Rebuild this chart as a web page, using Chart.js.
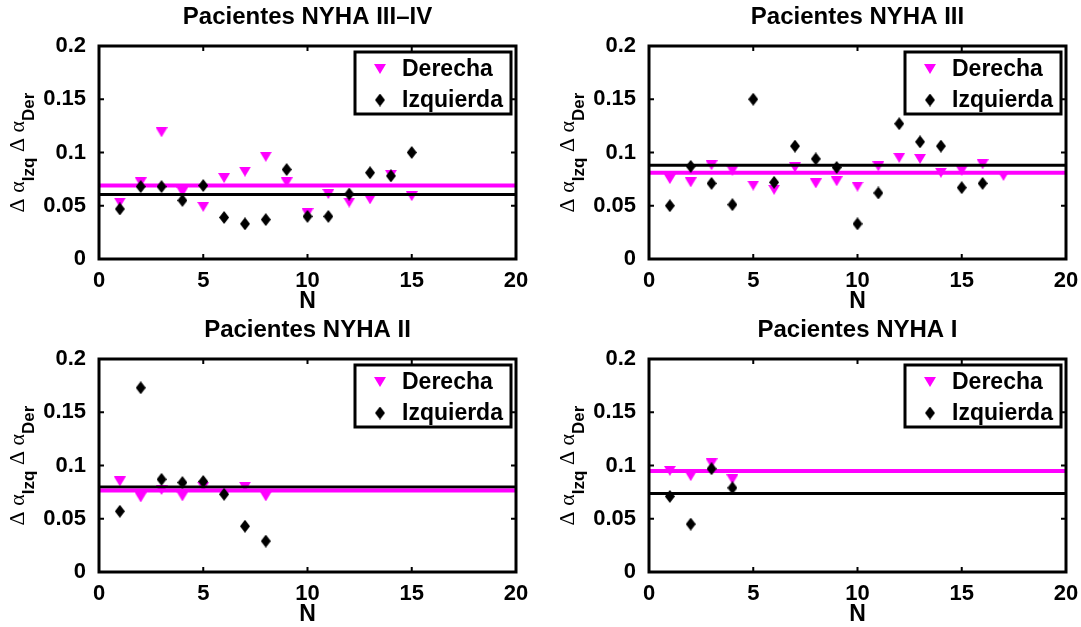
<!DOCTYPE html>
<html>
<head>
<meta charset="utf-8">
<script src="https://cdn.jsdelivr.net/npm/chart.js@4.4.1/dist/chart.umd.min.js"></script>
<style>
	body { margin: 0; background: #fff; width: 1081px; height: 627px; position: relative; overflow: hidden; }
	canvas { position: absolute; }
</style>
</head>
<body>
<canvas id="c34" width="540" height="313" style="left:0;top:0"></canvas>
<canvas id="c3" width="541" height="313" style="left:540px;top:0"></canvas>
<canvas id="c2" width="540" height="314" style="left:0;top:313px"></canvas>
<canvas id="c1" width="541" height="314" style="left:540px;top:313px"></canvas>
<script>
const xTicks = [0, 5, 10, 15, 20]
const yTicks = [0, 0.05, 0.1, 0.15, 0.2]
const seriesNames = ['Derecha', 'Izquierda']

// NYHA III-IV
const n34 = [1, 2, 3, 4, 5, 6, 7, 8, 9, 10, 11, 12, 13, 14, 15]
const der34 = [0.053, 0.072, 0.119, 0.063, 0.049, 0.076, 0.082, 0.096, 0.072, 0.043, 0.061, 0.053, 0.056, 0.079, 0.059]
const izq34 = [0.047, 0.068, 0.068, 0.055, 0.069, 0.039, 0.033, 0.037, 0.084, 0.040, 0.040, 0.061, 0.081, 0.078, 0.100]
const meanDer34 = 0.069
const meanIzq34 = 0.0606

// NYHA III
const nDer3 = [1, 2, 3, 4, 5, 6, 7, 8, 9, 10, 11, 12, 13, 14, 15, 16, 17]
const der3 = [0.075, 0.072, 0.088, 0.083, 0.069, 0.065, 0.086, 0.071, 0.073, 0.068, 0.087, 0.095, 0.094, 0.081, 0.083, 0.089, 0.078]
const nIzq3 = [1, 2, 3, 4, 5, 6, 7, 8, 9, 10, 11, 12, 13, 14, 15, 16]
const izq3 = [0.050, 0.087, 0.071, 0.051, 0.150, 0.072, 0.106, 0.094, 0.086, 0.033, 0.062, 0.127, 0.110, 0.106, 0.067, 0.071]
const meanDer3 = 0.081
const meanIzq3 = 0.088

// NYHA II
const n2 = [1, 2, 3, 4, 5, 6, 7, 8]
const der2 = [0.085, 0.070, 0.077, 0.071, 0.080, 0.073, 0.080, 0.071]
const izq2 = [0.057, 0.173, 0.087, 0.084, 0.085, 0.073, 0.043, 0.029]
const meanDer2 = 0.0766
const meanIzq2 = 0.0797

// NYHA I
const n1 = [1, 2, 3, 4]
const der1 = [0.095, 0.090, 0.102, 0.087]
const izq1 = [0.071, 0.045, 0.097, 0.079]
const meanDer1 = 0.0948
const meanIzq1 = 0.0738

const FONT = '"Liberation Sans", Arial, Helvetica, sans-serif'
const MAGENTA = '#ff00ff'

function markerCanvas(w, h, color, path) {
	const c = document.createElement('canvas')
	c.width = w
	c.height = h
	const g = c.getContext('2d')
	g.fillStyle = color
	g.beginPath()
	path(g, w, h)
	g.closePath()
	g.fill()
	return c
}

const triDown = markerCanvas(12, 10, MAGENTA, (g, w, h) => {
	g.moveTo(0, 0); g.lineTo(w, 0); g.lineTo(w / 2, h)
})
const diamond = markerCanvas(10, 13, '#000', (g, w, h) => {
	g.moveTo(w / 2, 0); g.lineTo(w, h / 2); g.lineTo(w / 2, h); g.lineTo(0, h / 2)
})

// box, inward ticks, legend and axis labels drawn the matlab way
const frame = {
	id: 'frame',
	afterDraw(chart) {
		const { ctx, chartArea: a, scales } = chart
		ctx.save()
		ctx.strokeStyle = '#000'
		ctx.fillStyle = '#000'

		ctx.lineWidth = 2
		ctx.beginPath()
		xTicks.forEach((v) => {
			const px = scales.x.getPixelForValue(v)
			ctx.moveTo(px, a.bottom); ctx.lineTo(px, a.bottom - 5)
			ctx.moveTo(px, a.top); ctx.lineTo(px, a.top + 5)
		})
		yTicks.forEach((v) => {
			const py = scales.y.getPixelForValue(v)
			ctx.moveTo(a.left, py); ctx.lineTo(a.left + 5, py)
			ctx.moveTo(a.right, py); ctx.lineTo(a.right - 5, py)
		})
		ctx.stroke()

		ctx.lineWidth = 3
		ctx.strokeRect(a.left, a.top, a.right - a.left, a.bottom - a.top)

		// legend
		const lw = 156, lh = 62
		const lx = a.right - 5 - lw, ly = a.top + 6
		ctx.fillStyle = '#fff'
		ctx.fillRect(lx, ly, lw, lh)
		ctx.strokeRect(lx, ly, lw, lh)
		ctx.font = 'bold 23px ' + FONT
		ctx.textBaseline = 'middle'
		ctx.textAlign = 'left'
		const items = chart.data.datasets.filter((d) => seriesNames.includes(d.label))
		items.forEach((d, i) => {
			const cy = ly + 17 + i * 31
			const img = d.pointStyle
			ctx.drawImage(img, lx + 25 - img.width / 2, cy - img.height / 2)
			ctx.fillStyle = '#000'
			ctx.fillText(d.label, lx + 47, cy + 1)
		})

		// x axis label
		ctx.font = 'bold 23px ' + FONT
		ctx.textAlign = 'center'
		ctx.fillText('N', (a.left + a.right) / 2, a.bottom + 43)

		// y axis label, rotated, with subscripts
		const parts = [
			{ t: 'Δ α', font: '22px "Liberation Serif", serif', dy: 0 },
			{ t: 'Izq', font: 'bold 17px ' + FONT, dy: 10 },
			{ t: ' Δ α', font: '22px "Liberation Serif", serif', dy: 0 },
			{ t: 'Der', font: 'bold 17px ' + FONT, dy: 10 },
		]
		ctx.translate(a.left - 75, (a.top + a.bottom) / 2)
		ctx.rotate(-Math.PI / 2)
		ctx.textAlign = 'left'
		ctx.textBaseline = 'alphabetic'
		let total = 0
		parts.forEach((p) => {
			ctx.font = p.font
			p.w = ctx.measureText(p.t).width
			total += p.w
		})
		let x = -total / 2
		parts.forEach((p) => {
			ctx.font = p.font
			ctx.fillText(p.t, x, p.dy)
			x += p.w
		})
		ctx.restore()
	},
}

// box = { y: width of the y axis strip, x: height of the x axis strip, right: space right of the plot }
function makeChart(id, title, box, nDer, der, nIzq, izq, meanDer, meanIzq) {
	const pts = (xs, ys) => xs.map((x, i) => ({ x: x, y: ys[i] }))
	const flat = (m) => [{ x: xTicks[0], y: m }, { x: xTicks[xTicks.length - 1], y: m }]
	const tickFont = { family: FONT, size: 22, weight: 'bold' }

	return new Chart(document.getElementById(id), {
		type: 'scatter',
		data: {
			datasets: [
				{ label: seriesNames[0], data: pts(nDer, der), pointStyle: triDown, order: 2 },
				{ label: seriesNames[1], data: pts(nIzq, izq), pointStyle: diamond, order: 0 },
				{ label: 'media ' + seriesNames[0], data: flat(meanDer), showLine: true, borderColor: MAGENTA, borderWidth: 4, pointRadius: 0, order: 1 },
				{ label: 'media ' + seriesNames[1], data: flat(meanIzq), showLine: true, borderColor: '#000', borderWidth: 3, pointRadius: 0, order: 1 },
			],
		},
		options: {
			responsive: false,
			animation: false,
			events: [],
			layout: { padding: { left: 0, right: box.right, top: 0, bottom: 0 } },
			plugins: {
				legend: { display: false },
				tooltip: { enabled: false },
				title: {
					display: true,
					fullSize: false,
					text: title,
					color: '#000',
					font: { family: FONT, size: 24, weight: 'bold', lineHeight: 1.2 },
					padding: { top: 2.6, bottom: 14.6 },
				},
			},
			scales: {
				x: {
					type: 'linear',
					min: xTicks[0],
					max: xTicks[xTicks.length - 1],
					grid: { display: false },
					border: { display: false },
					afterBuildTicks: (s) => { s.ticks = xTicks.map((v) => ({ value: v })) },
					afterFit: (s) => { s.height = box.x },
					ticks: { color: '#000', font: tickFont, padding: 1, maxRotation: 0, autoSkip: false, callback: (v) => String(v) },
				},
				y: {
					type: 'linear',
					min: yTicks[0],
					max: yTicks[yTicks.length - 1],
					grid: { display: false },
					border: { display: false },
					afterBuildTicks: (s) => { s.ticks = yTicks.map((v) => ({ value: v })) },
					afterFit: (s) => { s.width = box.y },
					ticks: { color: '#000', font: tickFont, padding: 5, autoSkip: false, callback: (v) => String(v) },
				},
			},
		},
		plugins: [frame],
	})
}

makeChart('c34', 'Pacientes NYHA III–IV', { y: 99, x: 54, right: 24 }, n34, der34, n34, izq34, meanDer34, meanIzq34)
makeChart('c3', 'Pacientes NYHA III', { y: 109, x: 54, right: 15 }, nDer3, der3, nIzq3, izq3, meanDer3, meanIzq3)
makeChart('c2', 'Pacientes NYHA II', { y: 99, x: 55, right: 24 }, n2, der2, n2, izq2, meanDer2, meanIzq2)
makeChart('c1', 'Pacientes NYHA I', { y: 109, x: 55, right: 15 }, n1, der1, n1, izq1, meanDer1, meanIzq1)
</script>
</body>
</html>
